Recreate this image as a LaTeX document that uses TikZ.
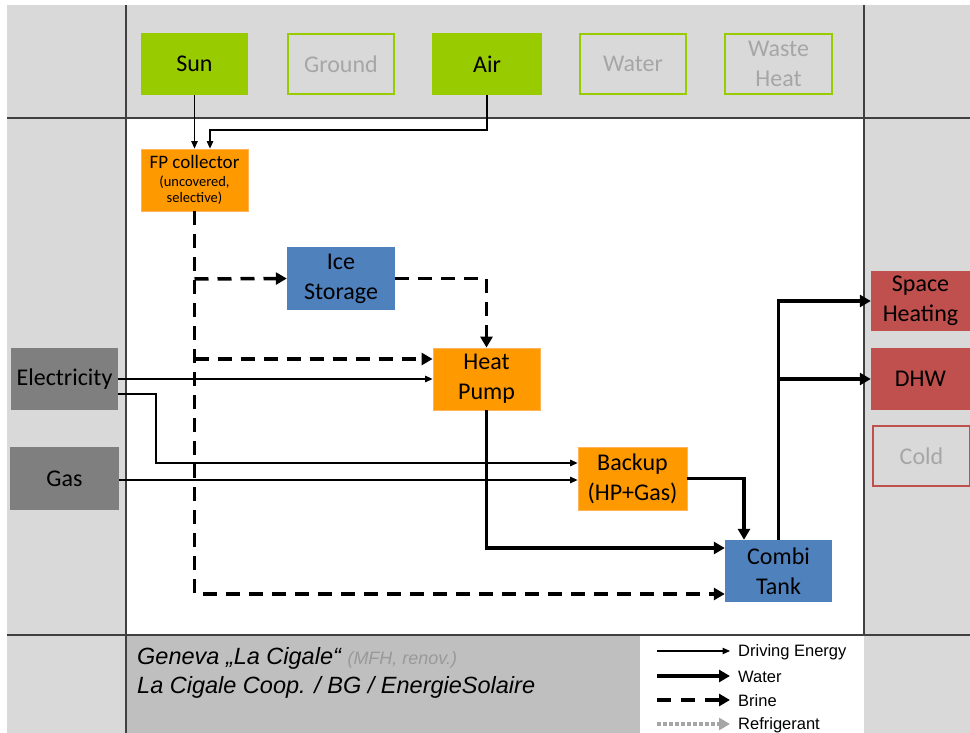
\documentclass[tikz,border=0pt]{standalone}
\usepackage{fontspec}
\setmainfont{Carlito}
\newfontfamily\arialf{Liberation Sans}
\usetikzlibrary{arrows.meta,calc}
\definecolor{cgreen}{HTML}{99CC00}
\definecolor{corange}{HTML}{FF9900}
\definecolor{corangeb}{HTML}{FFB45A}
\definecolor{cblue}{HTML}{4F81BD}
\definecolor{cred}{HTML}{C0504D}
\definecolor{cdgray}{HTML}{7F7F7F}
\definecolor{clgray}{HTML}{D9D9D9}
\definecolor{cmgray}{HTML}{BFBFBF}
\definecolor{ctgray}{HTML}{A6A6A6}
\definecolor{cttgray}{HTML}{999999}
\definecolor{cline}{HTML}{404040}
\tikzset{
  bx/.style={inner sep=0pt, align=center, font=\fontsize{24}{30}\selectfont},
  filledg/.style={bx, fill=cgreen, text=black},
  emptyg/.style={bx, draw=cgreen, line width=2.2pt, fill=clgray, text=ctgray},
  orangebox/.style={bx, fill=corange, draw=corangeb, line width=0.8pt, text=black},
  bluebox/.style={bx, fill=cblue, text=black},
  redbox/.style={bx, fill=cred, text=black},
  emptyr/.style={bx, draw=cred, line width=2.2pt, fill=clgray, text=ctgray},
  graybox/.style={bx, fill=cdgray, text=black},
  drive/.style={line width=1.1pt, -{Triangle[length=7.5pt,width=6.5pt]}},
  water/.style={line width=3.5pt, -{Triangle[length=11pt,width=12pt]}},
  brine/.style={line width=3.5pt, dash pattern=on 14pt off 9pt, -{Triangle[length=11pt,width=12pt]}},
  refrig/.style={line width=3.2pt, color=ctgray, dash pattern=on 3.5pt off 2.5pt, -{Triangle[length=11pt,width=12pt]}},
  legtxt/.style={anchor=west, inner sep=0pt, font=\arialf\fontsize{16.5}{18}\selectfont},
  sep/.style={line width=1.6pt, draw=cline}
}
\begin{document}
\begin{tikzpicture}[x=1pt,y=-1pt]
\useasboundingbox (0,0) rectangle (970,733);
% backgrounds
\fill[white] (0,0) rectangle (970,733);
\fill[clgray] (7,5) rectangle (970,733);
\fill[white] (126,118) rectangle (864,635);
\fill[cmgray] (126,635) rectangle (640,733);
\fill[white] (640,635) rectangle (864,733);
\draw[sep] (126,5) -- (126,733);
\draw[sep] (864,5) -- (864,635);
\draw[sep] (7,118) -- (970,118);
\draw[sep] (7,635) -- (970,635);

% sources
\node[filledg, minimum width=107pt, minimum height=62pt] (sun) at (194.5,64) {Sun};
\node[emptyg, minimum width=106pt, minimum height=60pt] (ground) at (341,64) {Ground};
\node[filledg, minimum width=110pt, minimum height=62pt] (air) at (487,64) {Air};
\node[emptyg, minimum width=106pt, minimum height=60pt] (water) at (633,64) {Water};
\node[emptyg, minimum width=107pt, minimum height=60pt] (waste) at (778.5,64) {Waste\\Heat};

% components
\node[orangebox, minimum width=107pt, minimum height=62pt, font=\fontsize{14.5}{16}\selectfont] (fp) at (194.5,180)
  {{\fontsize{19}{19}\selectfont FP collector}\\[2pt](uncovered,\\selective)};
\node[bluebox, minimum width=108pt, minimum height=63pt] (ice) at (341,278.5) {Ice\\Storage};
\node[orangebox, minimum width=107pt, minimum height=62pt] (hp) at (486.5,379) {Heat\\Pump};
\node[orangebox, minimum width=109pt, minimum height=63pt] (backup) at (632.5,478.5) {Backup\\(HP+Gas)};
\node[bluebox, minimum width=107pt, minimum height=62pt] (combi) at (778.5,571) {Combi\\Tank};

% sinks
\node[redbox, minimum width=99pt, minimum height=60pt] (sh) at (920.5,301) {Space\\Heating};
\node[redbox, minimum width=99pt, minimum height=62pt] (dhw) at (920.5,379) {DHW};
\node[emptyr, minimum width=97pt, minimum height=60pt] (cold) at (921.5,456) {Cold};

% driving energy
\node[graybox, minimum width=107pt, minimum height=62pt] (elec) at (64.5,379) {Electricity};
\node[graybox, minimum width=109pt, minimum height=63pt] (gas) at (64.5,478.5) {Gas};

% driving energy connectors
\draw[drive] (sun.south) -- (fp.north);
\draw[drive] (air.south) -- (air.south |- 0,130) -| ([xshift=15.5pt]fp.north);
\draw[drive] (elec.east) -- (hp.west);
\draw[drive] (elec.east |- 0,394) -| (156,463) -- (backup.west |- 0,463);
\draw[drive] (gas.east |- 0,480) -- (backup.west |- 0,480);

% brine
\draw[brine] (fp.south) |- (combi.west |- 0,594);
\draw[brine] (fp.south |- 0,279) -- (ice.west);
\draw[brine] (fp.south |- 0,359) -- (hp.west |- 0,359);
\draw[brine] (ice.east) -| (hp.north);

% water
\draw[water] (hp.south) |- (combi.west |- 0,548);
\draw[water] (backup.east) -| (combi.north -| 744,0);
\draw[water] (combi.north) |- (sh.west);
\draw[water] (combi.north |- 0,379) -- (dhw.west);

% title
\node[anchor=west, inner sep=0pt, font=\arialf\itshape\fontsize{23.5}{26}\selectfont] (t1) at (137,658)
  {Geneva „La Cigale“ {\color{cttgray}\fontsize{18}{20}\selectfont (MFH, renov.)}};
\node[anchor=west, inner sep=0pt, font=\arialf\itshape\fontsize{23.5}{26}\selectfont] (t2) at (137,687)
  {La Cigale Coop. / BG / EnergieSolaire};

% legend
\coordinate (la1) at (657,651); \coordinate (lb1) at (730,651);
\coordinate (la2) at (657,676); \coordinate (lb2) at (730,676);
\coordinate (la3) at (657,700); \coordinate (lb3) at (730,700);
\coordinate (la4) at (657,724); \coordinate (lb4) at (730,724);
\draw[drive] (la1) -- (lb1);
\draw[water] (la2) -- (lb2);
\draw[brine, dash pattern=on 14pt off 10pt] (la3) -- (lb3);
\draw[refrig] (la4) -- (lb4);
\node[legtxt] (lt1) at (738,652) {Driving Energy};
\node[legtxt] (lt2) at (738,677) {Water};
\node[legtxt] (lt3) at (738,701) {Brine};
\node[legtxt] (lt4) at (738,725) {Refrigerant};
\end{tikzpicture}
\end{document}
